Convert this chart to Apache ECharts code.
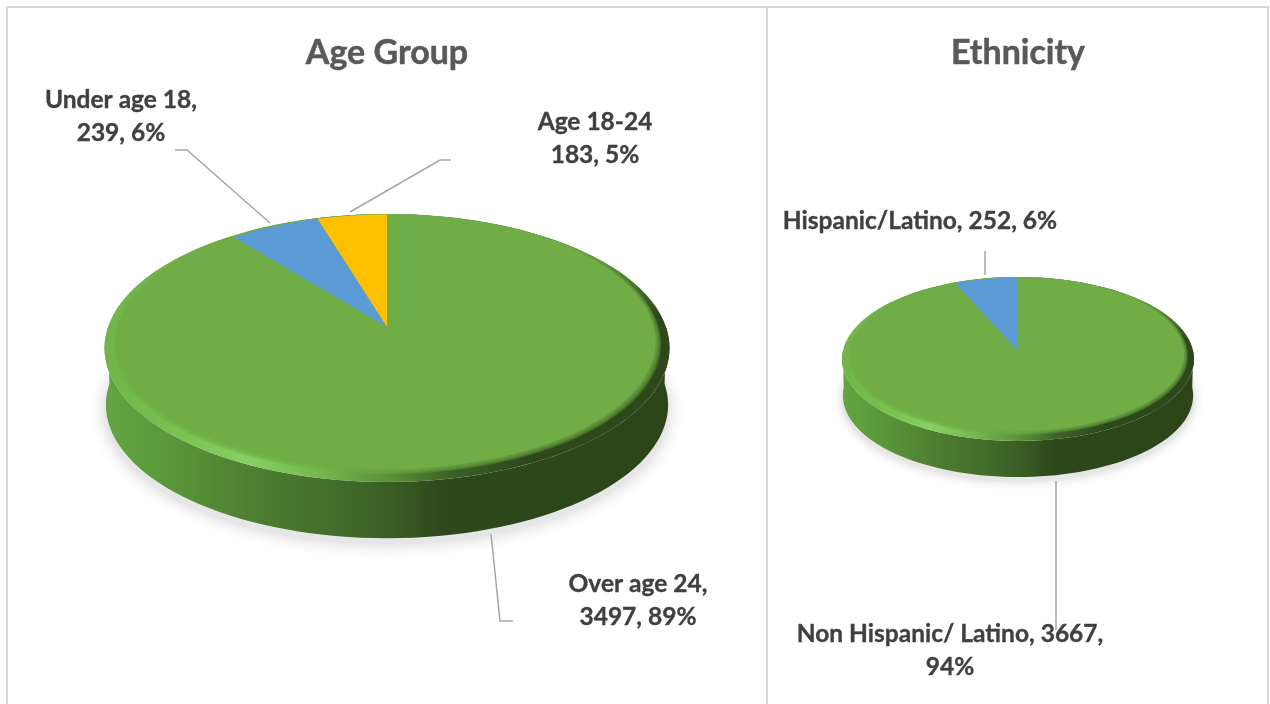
<!DOCTYPE html>
<html>
<head>
<meta charset="utf-8">
<style>html,body{margin:0;padding:0;background:#fff}#c{width:1270px;height:704px}</style>
<script src="https://cdn.jsdelivr.net/npm/echarts@6/dist/echarts.min.js"></script>
</head>
<body>
<div id="c"></div>
<script>
// ---- data ----
const chartTitles = ['Age Group', 'Ethnicity'];
const ageNames = ['Over age 24', 'Under age 18', 'Age 18-24'];
const ageValues = [3497, 239, 183];
const ethnicityNames = ['Non Hispanic/ Latino', 'Hispanic/Latino'];
const ethnicityValues = [3667, 252];
const ageColors = ['#70AD47', '#5B9BD5', '#FFC000'];
const ethnicityColors = ['#70AD47', '#5B9BD5'];

// ---- layout ----
const agePie = { tip: [387, 327], top: 214, bottom: 482, rx: 282.5, faceBottom: 469, bevel: 14, depth: 57, shadow: 16 };
const ethPie = { tip: [1018, 351], top: 277, bottom: 441, rx: 176, faceBottom: 431, bevel: 10, depth: 36.5, shadow: 11 };
const ageLabels = [
  { t: '{n},\n{v}, {p}%', x: 638, y: 601 },
  { t: '{n},\n{v}, {p}%', x: 121, y: 117 },
  { t: '{n}\n{v}, {p}%', x: 595, y: 139 }
];
const ethLabels = [
  { t: '{n}, {v},\n{p}%', x: 950, y: 651 },
  { t: '{n}, {v}, {p}%', x: 920, y: 221 }
];
const leaders = [
  [[175, 150], [187, 150], [270, 223]],
  [[451, 160], [440, 160], [350, 212]],
  [[491, 534], [500, 621], [513, 621]],
  [[985, 251], [985, 275]],
  [[1056, 481], [1056, 630]]
];

// Perspective projection of a flat disc: the centre sits above the ellipse's middle.
function projector(tip, top, bottom, rx) {
  const up = tip[1] - top, down = bottom - tip[1];
  const r = down / up, k = (r - 1) / (r + 1), B = up * (1 + k), A = rx * Math.sqrt(1 - k * k);
  return (a, dy = 0, s = 1) => { // a: clockwise from 12 o'clock
    const u = Math.sin(a), v = Math.cos(a), d = 1 + k * v;
    return [tip[0] + s * A * u / d, tip[1] + dy - s * B * v / d];
  };
}
function arc(p, from, to, n = 120) {
  const out = [];
  for (let i = 0; i <= n; i++) out.push(p(from + (to - from) * i / n));
  return out;
}
const lg = (stops, vertical) => new echarts.graphic.LinearGradient(0, 0, vertical ? 0 : 1, vertical ? 1 : 0,
  stops.map((c) => ({ offset: c[0], color: c[1] })));

function bodySeries(cfg) {
  const outer = projector(cfg.tip, cfg.top, cfg.bottom, cfg.rx);
  const T = Math.PI * 2;
  return {
    type: 'custom', coordinateSystem: 'none', z: 2, silent: true,
    data: [[1]],
    renderItem() {
      const low = (a) => outer(a, cfg.depth, 0.995);
      const shadowPts = arc((a) => outer(a, cfg.depth + cfg.shadow * 0.35, 1), 0, T);
      const pts = arc(outer, Math.PI * 0.5, Math.PI * 1.5, 80)
        .concat(arc(low, Math.PI * 1.5, Math.PI * 0.5, 80));
      const children = [
        { type: 'polygon', shape: { points: shadowPts }, z2: 1,
          style: { fill: '#e6e6e6', shadowBlur: cfg.shadow, shadowColor: 'rgba(0,0,0,0.18)' } },
        { type: 'polygon', shape: { points: pts }, z2: 2,
          style: { fill: lg([[0, '#64a541'], [0.1, '#5b9a3c'], [0.25, '#4f8031'], [0.4, '#426d2b'], [0.5, '#3a5f25'], [0.6, '#2d481a'], [1, '#2b4519']]) } },
        { type: 'polygon', shape: { points: arc(outer, 0, T) }, z2: 3,
          style: { fill: lg([[0, '#70b44a'], [0.12, '#78c04f'], [0.25, '#86d160'], [0.38, '#74b84f'], [0.5, '#5c9239'], [0.62, '#3a5f25'], [0.75, '#2d481a'], [1, '#2d481a']]) } },
        // the rim dies away towards the back of the disc
        { type: 'polygon', shape: { points: arc(outer, 0, T) }, z2: 4,
          style: { fill: lg([[0, 'rgba(112,173,71,1)'], [0.12, 'rgba(112,173,71,1)'], [0.38, 'rgba(112,173,71,0)'], [1, 'rgba(112,173,71,0)']], true) } }
      ];
      // soft shoulder between rim and flat face
      const steps = 5;
      for (let i = 1; i <= steps; i++) {
        const t = 0.5 + 0.5 * i / steps;
        const ring = projector(cfg.tip, cfg.top, cfg.bottom + (cfg.faceBottom - cfg.bottom) * t, cfg.rx - cfg.bevel * t);
        children.push({ type: 'polygon', shape: { points: arc(ring, 0, T) }, z2: 5 + i, style: { fill: 'rgba(112,173,71,0.35)' } });
      }
      return { type: 'group', children };
    }
  };
}
function sliceSeries(name, names, values, colors, cfg) {
  const total = values.reduce((a, b) => a + b, 0);
  const face = projector(cfg.tip, cfg.top + 0.5, cfg.faceBottom, cfg.rx - cfg.bevel);
  return {
    type: 'custom', name, coordinateSystem: 'none', z: 3, silent: true,
    data: values.map((v, i) => ({ name: names[i], value: [v] })),
    renderItem(params, api) {
      const i = params.dataIndex;
      const before = values.slice(0, i).reduce((a, b) => a + b, 0);
      const from = before / total * Math.PI * 2;
      const to = (before + api.value(0)) / total * Math.PI * 2;
      const n = Math.max(4, Math.ceil((to - from) * 40));
      return {
        type: 'polygon', shape: { points: [cfg.tip].concat(arc(face, from, to, n)) },
        style: { fill: colors[i] }
      };
    }
  };
}
function labelSeries(names, values, layout) {
  const total = values.reduce((a, b) => a + b, 0);
  return {
    type: 'custom', coordinateSystem: 'none', z: 6, silent: true,
    data: values.map((v, i) => ({ name: names[i], value: [v] })),
    renderItem(params, api) {
      const i = params.dataIndex, v = api.value(0), l = layout[i];
      const text = l.t.replace('{n}', names[i]).replace('{v}', v).replace('{p}', Math.round(v / total * 100));
      return {
        type: 'text', x: l.x, y: l.y,
        style: { text, fill: '#404040', stroke: '#404040', lineWidth: 0.35, font: 'bold 24.5px Lato, Carlito, sans-serif', align: 'center', verticalAlign: 'middle', lineHeight: 33 }
      };
    }
  };
}
const leaderSeries = {
  type: 'custom', coordinateSystem: 'none', z: 5, silent: true,
  data: leaders.map((_, i) => [i]),
  renderItem(params) {
    return { type: 'polyline', shape: { points: leaders[params.dataIndex] }, style: { fill: 'none', stroke: '#a6a6a6', lineWidth: 1.5 } };
  }
};

const chart = echarts.init(document.getElementById('c'));
chart.setOption({
  backgroundColor: '#fff',
  animation: false,
  title: chartTitles.map((t, i) => ({
    text: t, left: [382, 1013][i], top: 28, textAlign: 'center',
    textStyle: { color: '#595959', fontFamily: 'Lato, Carlito, sans-serif', fontWeight: 'bold', fontSize: 34, lineHeight: 40,
      textBorderColor: '#595959', textBorderWidth: 0.5 }
  })),
  graphic: [
    { type: 'rect', z: 0, shape: { x: 7, y: 7, width: 1261, height: 720 }, style: { fill: 'none', stroke: '#d9d9d9', lineWidth: 2 } },
    { type: 'line', z: 0, shape: { x1: 767, y1: 7, x2: 767, y2: 704 }, style: { stroke: '#d9d9d9', lineWidth: 2 } }
  ],
  series: [
    bodySeries(agePie),
    bodySeries(ethPie),
    sliceSeries('Age Group', ageNames, ageValues, ageColors, agePie),
    sliceSeries('Ethnicity', ethnicityNames, ethnicityValues, ethnicityColors, ethPie),
    leaderSeries,
    labelSeries(ageNames, ageValues, ageLabels),
    labelSeries(ethnicityNames, ethnicityValues, ethLabels)
  ]
});
</script>
</body>
</html>
